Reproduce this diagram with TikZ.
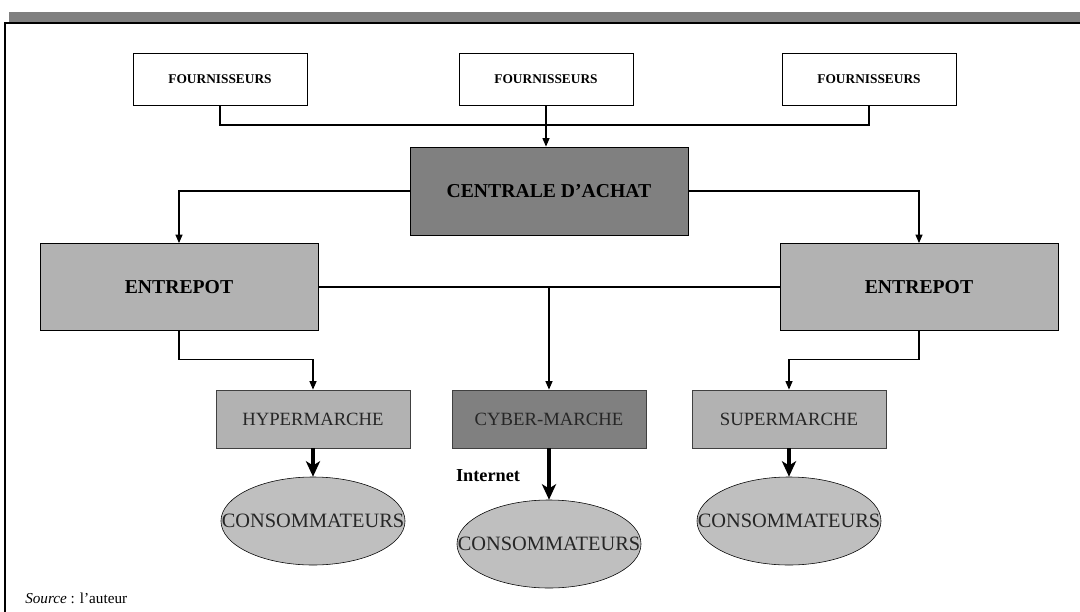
\documentclass[tikz,border=0pt]{standalone}
\usepackage{fontspec}
\setmainfont{Liberation Serif}
\usetikzlibrary{arrows.meta, positioning, shapes.geometric, calc}

\begin{document}
\begin{tikzpicture}[
    x=0.025cm, y=-0.025cm,
    four/.style={draw, thin, fill=white, minimum width=4.35cm, minimum height=1.3cm, font=\fontsize{9.5}{10}\selectfont\bfseries},
    centr/.style={draw, semithick, fill=black!50, minimum width=6.95cm, minimum height=2.2cm, font=\fontsize{14}{15}\selectfont\bfseries},
    entr/.style={draw, semithick, fill=black!30, minimum width=6.95cm, minimum height=2.175cm, font=\fontsize{14}{15}\selectfont\bfseries},
    magasin/.style={draw, semithick, draw=black!75, fill=black!30, minimum width=4.85cm, minimum height=1.45cm, font=\fontsize{13.3}{14}\selectfont, text=black!85},
    conso/.style={draw, ellipse, fill=black!25, minimum width=4.6cm, minimum height=2.2cm, inner sep=0pt, font=\fontsize{14.5}{15}\selectfont, text=black!85},
    arr/.style={-{Triangle[length=6pt, width=5pt]}, line width=0.75pt},
    grosarr/.style={-{Stealth[length=11pt, width=10pt, inset=3pt]}, line width=2.2pt}
]
\useasboundingbox (0,0) rectangle (1080,612);

% ---- cadre ----
\fill[black!50] (9,12) rectangle (1080,22);
\draw[line width=1.1pt] (5,612) -- (5,23) -- (1080,23);

% ---- fournisseurs ----
\node[four] (four1) at (220,79) {FOURNISSEURS};
\node[four] (four2) at (546,79) {FOURNISSEURS};
\node[four] (four3) at (869,79) {FOURNISSEURS};
\coordinate (jtop) at (546,125);

% ---- centrale et entrepots ----
\node[centr] (centrale) at (549,191) {CENTRALE D’ACHAT};
\node[entr] (entre1) at (179,287) {ENTREPOT};
\node[entr] (entre2) at (919,287) {ENTREPOT};

% ---- points de vente ----
\node[magasin] (hyper) at (313,419) {HYPERMARCHE};
\node[magasin, fill=black!50] (cyber) at (549,419) {CYBER-MARCHE};
\node[magasin] (super) at (789,419) {SUPERMARCHE};

\node[conso] (conso1) at (313,521) {\makebox[0pt]{CONSOMMATEURS}};
\node[conso] (conso2) at (549,544) {\makebox[0pt]{CONSOMMATEURS}};
\node[conso] (conso3) at (789,521) {\makebox[0pt]{CONSOMMATEURS}};
\node[font=\fontsize{13}{14}\selectfont\bfseries] (internet) at (488,476) {Internet};

% ---- liaisons ----
\draw[line width=0.75pt] (four1.south) -- (four1.south |- jtop) -- (four3.south |- jtop) -- (four3.south);
\draw[arr] (four2.south) -- (four2.south |- centrale.north);
\draw[arr] (centrale.west) -| (entre1.north);
\draw[arr] (centrale.east) -| (entre2.north);

\draw[line width=0.75pt] (entre1.east) -- (entre2.west);
\draw[arr] (cyber.north |- entre1.east) -- (cyber.north);
\draw[arr] (entre1.south) |- ([yshift=0.75cm]hyper.north) -- (hyper.north);
\draw[arr] (entre2.south) |- ([yshift=0.75cm]super.north) -- (super.north);

\draw[grosarr] (hyper.south) -- (conso1.north);
\draw[grosarr] (cyber.south) -- (conso2.north);
\draw[grosarr] (super.south) -- (conso3.north);

% ---- source ----
\node[anchor=west, inner sep=0pt, font=\fontsize{10.8}{11}\selectfont] (source) at (25,598) {\textit{Source} : l’auteur};
\end{tikzpicture}
\end{document}
